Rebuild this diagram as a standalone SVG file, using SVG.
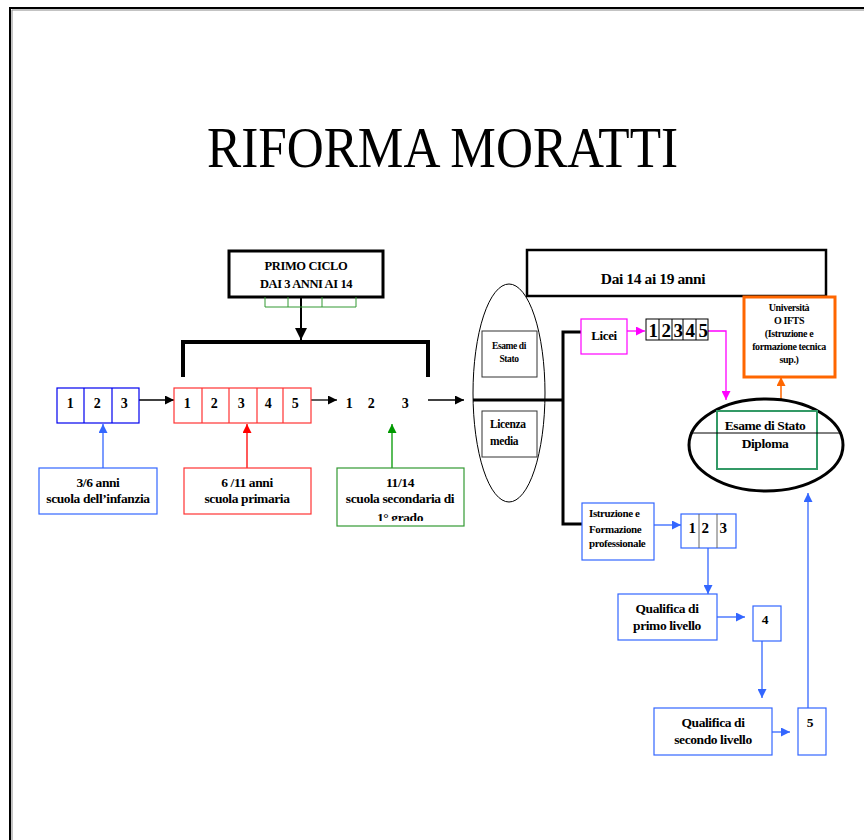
<svg xmlns="http://www.w3.org/2000/svg" width="864" height="840" viewBox="0 0 864 840">
<style>
.t{font-family:"Liberation Serif","Times New Roman",serif;font-weight:bold;fill:#000;letter-spacing:-0.4px}
.m{text-anchor:middle}
.box{fill:#fff}
</style>
<defs>
<marker id="ak" viewBox="0 0 10 10" refX="10" refY="5" markerWidth="9" markerHeight="9" markerUnits="userSpaceOnUse" orient="auto"><path d="M0,0 L10,5 L0,10 z" fill="#000"/></marker>
<marker id="akb" viewBox="0 0 10 10" refX="10" refY="5" markerWidth="13" markerHeight="12" markerUnits="userSpaceOnUse" orient="auto"><path d="M0,0 L10,5 L0,10 z" fill="#000"/></marker>
<marker id="ab" viewBox="0 0 10 10" refX="10" refY="5" markerWidth="9" markerHeight="9" markerUnits="userSpaceOnUse" orient="auto"><path d="M0,0 L10,5 L0,10 z" fill="#3366FF"/></marker>
<marker id="ar" viewBox="0 0 10 10" refX="10" refY="5" markerWidth="9" markerHeight="9" markerUnits="userSpaceOnUse" orient="auto"><path d="M0,0 L10,5 L0,10 z" fill="#FF0000"/></marker>
<marker id="ag" viewBox="0 0 10 10" refX="10" refY="5" markerWidth="9" markerHeight="9" markerUnits="userSpaceOnUse" orient="auto"><path d="M0,0 L10,5 L0,10 z" fill="#009900"/></marker>
<marker id="am" viewBox="0 0 10 10" refX="10" refY="5" markerWidth="9" markerHeight="9" markerUnits="userSpaceOnUse" orient="auto"><path d="M0,0 L10,5 L0,10 z" fill="#FF00FF"/></marker>
<marker id="ao" viewBox="0 0 10 10" refX="10" refY="5" markerWidth="9" markerHeight="9" markerUnits="userSpaceOnUse" orient="auto"><path d="M0,0 L10,5 L0,10 z" fill="#FF6600"/></marker>
<clipPath id="cg"><rect x="337" y="468" width="127" height="53"/></clipPath>
</defs>
<rect width="864" height="840" fill="#fff"/>
<!-- frame -->
<path d="M10,840 V8 H864" fill="none" stroke="#000" stroke-width="2"/>
<path d="M12,840 V10 H864" fill="none" stroke="#888" stroke-width="1"/>

<text id="title" x="207" y="167" font-family="'Liberation Serif','Times New Roman',serif" font-size="56" textLength="471" lengthAdjust="spacingAndGlyphs">RIFORMA MORATTI</text>

<g id="connectors" fill="none">
  <line x1="301" y1="297" x2="301" y2="340" stroke="#000" stroke-width="2" marker-end="url(#akb)"/>
  <path d="M183,377 V342 H428 V377" stroke="#000" stroke-width="4"/>
  <line x1="139" y1="400" x2="174" y2="400" stroke="#000" stroke-width="1.3" marker-end="url(#ak)"/>
  <line x1="311" y1="400" x2="337" y2="400" stroke="#000" stroke-width="1.3" marker-end="url(#ak)"/>
  <line x1="428" y1="400" x2="464" y2="400" stroke="#000" stroke-width="1.3" marker-end="url(#ak)"/>
  <line x1="103" y1="468" x2="103" y2="424" stroke="#3366FF" stroke-width="1.3" marker-end="url(#ab)"/>
  <line x1="247" y1="468" x2="247" y2="424" stroke="#FF0000" stroke-width="1.3" marker-end="url(#ar)"/>
  <line x1="392" y1="468" x2="392" y2="424" stroke="#009900" stroke-width="1.3" marker-end="url(#ag)"/>
  <line x1="473" y1="400" x2="563" y2="400" stroke="#000" stroke-width="3"/>
  <path d="M582,332 H563 V524 H582" stroke="#000" stroke-width="3"/>
  <line x1="627" y1="331" x2="645" y2="331" stroke="#FF00FF" stroke-width="1.3" marker-end="url(#am)"/>
  <path d="M708,331 H726 V400" stroke="#FF00FF" stroke-width="1.3" marker-end="url(#am)"/>
  <line x1="781" y1="400" x2="781" y2="377" stroke="#FF6600" stroke-width="1.5" marker-end="url(#ao)"/>
  <line x1="654" y1="525" x2="681" y2="525" stroke="#3366FF" stroke-width="1.3" marker-end="url(#ab)"/>
  <line x1="708" y1="548" x2="708" y2="594" stroke="#3366FF" stroke-width="1.3" marker-end="url(#ab)"/>
  <line x1="717" y1="617" x2="745" y2="617" stroke="#3366FF" stroke-width="1.3" marker-end="url(#ab)"/>
  <line x1="762" y1="641" x2="762" y2="698" stroke="#3366FF" stroke-width="1.3" marker-end="url(#ab)"/>
  <line x1="772" y1="732" x2="790" y2="732" stroke="#3366FF" stroke-width="1.3" marker-end="url(#ab)"/>
  <line x1="808" y1="708" x2="808" y2="493" stroke="#3366FF" stroke-width="1.3" marker-end="url(#ab)"/>
</g>

<g id="primo-ciclo">
  <rect x="229" y="251" width="154" height="46" class="box" stroke="#000" stroke-width="3"/>
  <text class="t m" x="306" y="270" font-size="12.5" letter-spacing="-0.7">PRIMO CICLO</text>
  <text class="t m" x="306" y="288" font-size="12.5" letter-spacing="-0.7">DAI 3 ANNI AI 14</text>
  <path d="M265,297 V307 H356 V297 M288,297 V307 M322,297 V307" fill="none" stroke="#339933" stroke-width="1"/>
</g>

<g id="infanzia-anni">
  <rect x="57" y="388" width="82" height="35" class="box" stroke="#0000EE" stroke-width="1.2"/>
  <path d="M84,388 V423 M112,388 V423" stroke="#0000EE" stroke-width="1.2"/>
  <text class="t m" x="70" y="408" font-size="14">1</text>
  <text class="t m" x="97" y="408" font-size="14">2</text>
  <text class="t m" x="124" y="408" font-size="14">3</text>
</g>
<g id="primaria-anni">
  <rect x="174" y="388" width="137" height="35" class="box" stroke="#FF3333" stroke-width="1.2"/>
  <path d="M202,388 V423 M229,388 V423 M257,388 V423 M283,388 V423" stroke="#FF3333" stroke-width="1.2"/>
  <text class="t m" x="187" y="408" font-size="14">1</text>
  <text class="t m" x="214" y="408" font-size="14">2</text>
  <text class="t m" x="241" y="408" font-size="14">3</text>
  <text class="t m" x="268" y="408" font-size="14">4</text>
  <text class="t m" x="295" y="408" font-size="14">5</text>
</g>
<g id="secondaria-anni">
  <text class="t m" x="349" y="408" font-size="14">1</text>
  <text class="t m" x="371" y="408" font-size="14">2</text>
  <text class="t m" x="405" y="408" font-size="14">3</text>
</g>

<g id="label-infanzia">
  <rect x="39" y="468" width="118" height="46" class="box" stroke="#3366FF" stroke-width="1.2"/>
  <text class="t m" x="98" y="487" font-size="13.5">3/6 anni</text>
  <text class="t m" x="98" y="503" font-size="13.5">scuola dell’infanzia</text>
</g>
<g id="label-primaria">
  <rect x="184" y="468" width="127" height="46" class="box" stroke="#FF3333" stroke-width="1.2"/>
  <text class="t m" x="247" y="487" font-size="13.5">6 /11 anni</text>
  <text class="t m" x="247" y="503" font-size="13.5">scuola primaria</text>
</g>
<g id="label-secondaria">
  <rect x="337" y="468" width="127" height="58" class="box" stroke="#339933" stroke-width="1.2"/>
  <g clip-path="url(#cg)">
    <text class="t m" x="400" y="487" font-size="13.5">11/14</text>
    <text class="t m" x="400" y="503" font-size="13.5">scuola secondaria di</text>
    <text class="t m" x="400" y="522" font-size="13.5">1° grado</text>
  </g>
</g>

<g id="esami-ellisse">
  <ellipse cx="509" cy="393" rx="36" ry="109" fill="none" stroke="#000" stroke-width="1"/>
  <rect x="482" y="331" width="55" height="46" class="box" stroke="#333" stroke-width="1"/>
  <text class="t m" x="509" y="349" font-size="9.5" letter-spacing="-0.5">Esame di</text>
  <text class="t m" x="509" y="362" font-size="9.5" letter-spacing="-0.5">Stato</text>
  <rect x="482" y="411" width="55" height="46" class="box" stroke="#333" stroke-width="1"/>
  <text class="t" x="490" y="428" font-size="11.5" letter-spacing="-0.6">Licenza</text>
  <text class="t" x="490" y="445" font-size="11.5" letter-spacing="-0.6">media</text>
</g>

<g id="dai14">
  <rect x="527" y="250" width="299" height="46" class="box" stroke="#000" stroke-width="2.5"/>
  <text class="t m" x="653" y="284" font-size="15.5" letter-spacing="-0.7">Dai 14 ai 19 anni</text>
</g>

<g id="licei">
  <rect x="581" y="319" width="46" height="35" class="box" stroke="#FF00FF" stroke-width="1.2"/>
  <text class="t m" x="604" y="340" font-size="13" letter-spacing="-0.5">Licei</text>
</g>
<g id="licei-anni">
  <rect x="646" y="319" width="62" height="21" class="box" stroke="#000" stroke-width="1"/>
  <path d="M659,319 V340 M672,319 V340 M683,319 V340 M696,319 V340" stroke="#000" stroke-width="1"/>
  <text class="t m" x="653" y="337" font-size="19" letter-spacing="0">1</text>
  <text class="t m" x="666" y="337" font-size="19" letter-spacing="0">2</text>
  <text class="t m" x="678" y="337" font-size="19" letter-spacing="0">3</text>
  <text class="t m" x="690" y="337" font-size="19" letter-spacing="0">4</text>
  <text class="t m" x="703" y="337" font-size="19" letter-spacing="0">5</text>
</g>

<g id="universita">
  <rect x="744" y="297" width="91" height="80" class="box" stroke="#FF6600" stroke-width="3"/>
  <text class="t m" x="789" y="311" font-size="10">Università</text>
  <text class="t m" x="789" y="324" font-size="10">O IFTS</text>
  <text class="t m" x="789" y="337" font-size="10">(Istruzione e</text>
  <text class="t m" x="789" y="350" font-size="10">formazione tecnica</text>
  <text class="t m" x="789" y="363" font-size="10">sup.)</text>
</g>

<g id="diploma">
  <ellipse cx="766" cy="445" rx="77" ry="46" fill="#fff" stroke="#000" stroke-width="3"/>
  <rect x="717" y="411" width="100" height="58" fill="none" stroke="#339966" stroke-width="2"/>
  <line x1="690" y1="433" x2="842" y2="433" stroke="#000" stroke-width="1"/>
  <text class="t m" x="765" y="430" font-size="13.5">Esame di Stato</text>
  <text class="t m" x="765" y="448" font-size="13.5">Diploma</text>
</g>

<g id="istruzione">
  <rect x="582" y="503" width="72" height="57" class="box" stroke="#3366FF" stroke-width="1.2"/>
  <text class="t" x="589" y="517" font-size="11">Istruzione e</text>
  <text class="t" x="589" y="533" font-size="11">Formazione</text>
  <text class="t" x="589" y="547" font-size="11">professionale</text>
</g>
<g id="istruzione-anni">
  <rect x="681" y="514" width="55" height="34" class="box" stroke="#3366FF" stroke-width="1.2"/>
  <path d="M699,514 V548 M717,514 V548" stroke="#666" stroke-width="1"/>
  <text class="t m" x="692" y="533" font-size="15" letter-spacing="0">1</text>
  <text class="t m" x="705" y="533" font-size="15" letter-spacing="0">2</text>
  <text class="t m" x="723" y="533" font-size="15" letter-spacing="0">3</text>
</g>

<g id="qualifica1">
  <rect x="618" y="594" width="99" height="46" class="box" stroke="#3366FF" stroke-width="1.2"/>
  <text class="t m" x="667" y="613" font-size="13.5">Qualifica di</text>
  <text class="t m" x="667" y="630" font-size="13.5">primo livello</text>
</g>
<g id="anno4">
  <rect x="753" y="606" width="28" height="35" class="box" stroke="#3366FF" stroke-width="1.2"/>
  <text class="t m" x="765" y="624" font-size="13.5">4</text>
</g>
<g id="qualifica2">
  <rect x="654" y="708" width="118" height="47" class="box" stroke="#3366FF" stroke-width="1.2"/>
  <text class="t m" x="713" y="727" font-size="13.5">Qualifica di</text>
  <text class="t m" x="713" y="744" font-size="13.5">secondo livello</text>
</g>
<g id="anno5">
  <rect x="798" y="708" width="28" height="47" class="box" stroke="#3366FF" stroke-width="1.2"/>
  <text class="t m" x="810" y="727" font-size="13.5">5</text>
</g>
</svg>
